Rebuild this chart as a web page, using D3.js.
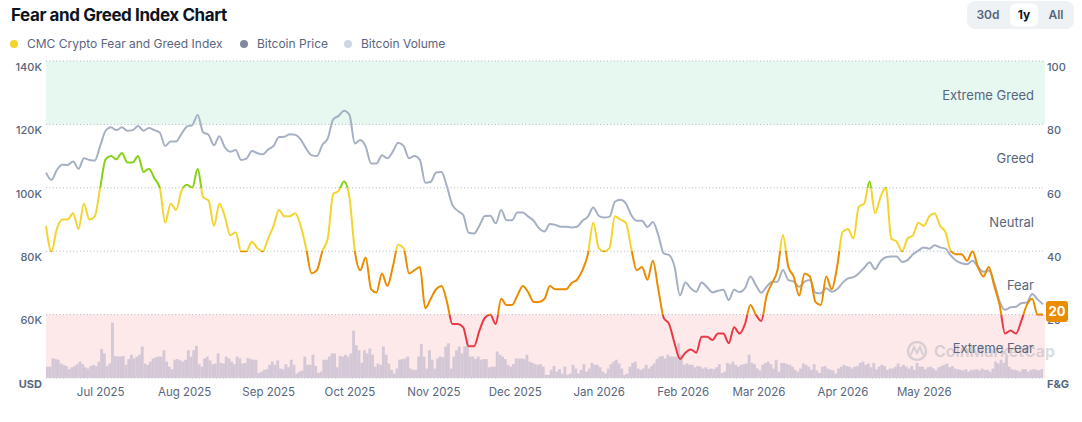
<!DOCTYPE html>
<html>
<head>
<meta charset="utf-8">
<script src="https://cdn.jsdelivr.net/npm/d3@7"></script>
<style>
  body { margin: 0; background: #fff; }
  #canvas { width: 1082px; height: 422px; }
  text { font-family: Inter, "Noto Sans", sans-serif; }
</style>
</head>
<body>
<div id="canvas"></div>
<script>
// data
let startDay = "2025-06-11"
let seriesStep = 2   // fear & greed and price are read every 2 days

let fngValues = [
  48,40,47,50,50,52,47,55,50,51,
  60,69,70,69,71,68,68,70,65,66,
  63,60,49,55,53,59,61,60,66,57,
  56,48,55,51,45,46,40,40,43,41,
  40,44,48,53,51,51,52,48,41,33,
  34,40,44,58,59,62,57,40,34,38,
  28,27,33,29,35,42,41,33,34,35,
  22,25,28,29,24,17,17,16,10,10,
  15,19,20,17,25,23,23,26,29,27,
  24,24,25,29,28,28,28,30,31,34,
  39,49,41,40,41,51,50,49,41,34,
  35,31,37,28,19,17,11,6,8,9,
  8,13,13,12,14,14,11,16,14,17,
  23,20,18,26,30,34,45,35,32,26,
  33,32,24,23,32,28,35,46,47,44,
  54,55,62,52,57,60,44,43,40,44,
  45,49,48,51,52,48,46,40,39,39,
  37,40,35,32,35,29,23,14,15,14,
  18,23,25,20,20
]

// bitcoin price, thousands of USD
let priceValues = [
  104.8,102.5,105.6,107.3,107.2,108.3,106,109.3,108.8,108.6,
  113.2,118,119.1,118.2,119.1,118,118.2,119.5,118,118.9,
  118.2,117.4,113.2,114.6,114.6,117,119.3,119.8,123,117.5,
  116.7,113.4,116.3,112.8,111.4,111.9,108.8,109.2,111.6,110.9,
  110.6,112.1,113.2,116,116.1,116.9,116.7,115.3,112.4,110.3,
  110,113.5,115.6,121.6,122.7,124.3,123,114,115.1,113,
  107.7,107.7,110.3,109.3,111.4,114.2,113.2,109.3,110,108.8,
  101.6,101.9,104.8,105,100.4,94.6,92.7,91.4,85.8,85.6,
  88.1,91.1,91.2,88.8,93,89.8,89.8,92.2,92.2,90.9,
  89.6,87.2,86.2,88.6,88.3,87.7,87.7,87.5,87.7,89.6,
  90.9,93.8,91.2,90.6,90.9,95.6,96.2,95.1,91.4,89.6,
  89.6,87.6,89.2,85.1,79.3,78.8,75.1,66,70.1,68.3,
  67.2,70.1,68.6,67,67.5,67.8,64.6,67.8,67.1,68.3,
  72,69.3,66.9,68.8,70.4,70.4,74.1,70.9,70.4,68.8,
  70.4,70.9,66.9,66.7,68.3,67.2,68,70,71.4,71.8,
  73,74.8,76.5,74.3,76.8,78.1,78.3,78.3,76.6,77.2,
  79,80.2,81.2,80.8,81.9,81.2,80.8,78.6,77,76.2,
  75.9,77,75.1,73.5,73.9,70.1,64.1,61.5,62.3,62.5,
  63.6,63.8,66.5,64.8,63.3
]

// daily bitcoin volume, billions of USD
let volumeValues = [
  18,18,31,30,29,23,21,19,14,17,
  19,22,26,22,17,15,19,21,19,26,
  46,39,19,23,88,35,34,34,35,21,
  30,37,31,34,37,50,23,21,26,31,
  33,34,34,44,26,18,14,29,30,28,
  26,29,44,34,44,51,22,18,31,34,
  28,22,23,39,24,23,34,31,26,22,
  34,31,23,24,32,30,29,29,8,10,
  13,14,21,26,21,28,15,14,22,17,
  29,21,7,10,12,34,21,21,37,19,
  8,10,29,29,34,39,39,17,35,34,
  37,34,39,75,52,44,24,44,39,47,
  37,18,23,21,50,37,23,13,7,15,
  29,30,31,34,15,13,13,34,54,34,
  15,44,29,15,31,34,33,50,55,15,
  34,44,50,39,50,63,34,34,30,34,
  29,30,30,17,18,18,42,37,34,30,
  21,18,22,31,31,31,30,37,26,24,
  22,21,22,18,5,5,13,19,10,14,
  7,18,5,7,21,15,7,13,22,10,
  15,24,21,21,17,10,7,15,22,26,
  29,23,15,5,7,18,24,26,15,13,
  15,21,15,19,23,30,34,35,31,37,
  34,34,34,55,37,21,23,21,21,17,
  19,18,15,17,14,15,14,17,22,8,
  10,24,22,26,21,18,21,22,23,37,
  24,22,15,12,21,24,26,22,15,29,
  10,24,24,22,21,18,13,10,15,23,
  21,18,13,22,12,8,18,19,15,13,
  12,7,15,18,21,19,18,15,18,19,
  24,26,21,23,17,24,14,18,21,19,
  13,15,15,18,23,18,21,18,15,19,
  13,24,18,18,14,17,18,15,12,17,
  19,21,23,17,19,15,14,13,12,14,
  10,13,13,14,12,15,13,13,10,15,
  26,23,29,24,34,18,14,13,12,10,
  14,14,10,13,14,13,12,14,13
]

let monthTicks = ["2025-07-01","2025-08-01","2025-09-01","2025-10-01","2025-11-01","2025-12-01",
  "2026-01-01","2026-02-01","2026-03-01","2026-04-01","2026-05-01"]
let priceTicks = [140, 120, 100, 80, 60, 40]
let fngTicks = [100, 80, 60, 40, 20, 0]
let zoneNames = ["Extreme Greed", "Greed", "Neutral", "Fear", "Extreme Fear"]
let zoneMids = [90, 70, 50, 30, 10]
let legendNames = ["CMC Crypto Fear and Greed Index", "Bitcoin Price", "Bitcoin Volume"]
let rangeButtons = ["30d", "1y", "All"]

let svg = {}
let scales = {}
let plot = {left: 46, right: 1043, top: 61, bottom: 378}
let colors = {
  greed: "#86d212", neutral: "#f3d42f", fear: "#ea8c00", extremeFear: "#ea3943",
  price: "#a6b0c3", volume: "#d4c8d7", text: "#58667e", dark: "#0d1421"
}

window.onload = function () { setup() }

function setup(){
  setupSVGCanvas()
  setupScales()
  drawHeader()
  drawZones()
  drawVolume()
  drawPrice()
  drawFng()
  drawAxes()
  drawBadge()
}

function setupSVGCanvas(){
  svg = d3.select("#canvas")
    .append("svg")
    .attr("width", 1082)
    .attr("height", 422)
}

function dayDate(i){
  return d3.timeDay.offset(d3.timeParse("%Y-%m-%d")(startDay), i)
}

function setupScales(){
  scales.x = d3.scaleTime()
    .domain([dayDate(0), dayDate(368)])
    .range([plot.left, plot.right])
  scales.price = d3.scaleLinear().domain([40, 140]).range([plot.bottom, plot.top])
  scales.fng = d3.scaleLinear().domain([0, 100]).range([plot.bottom, plot.top])
  scales.vol = d3.scaleLinear().domain([0, 100]).range([plot.bottom, plot.bottom - 63])
}

function drawHeader(){
  svg.append("text")
    .attr("x", 11).attr("y", 21)
    .attr("font-size", 17).attr("font-weight", 700)
    .attr("letter-spacing", "-0.4px")
    .attr("fill", colors.dark)
    .text("Fear and Greed Index Chart")

  let dotColors = [colors.neutral, "#808a9d", "#cfd6e4"]
  let legendX = [14, 244, 348]
  let legend = svg.append("g")
  legendNames.forEach((name, i) => {
    legend.append("circle").attr("cx", legendX[i]).attr("cy", 44).attr("r", 4).attr("fill", dotColors[i])
    legend.append("text")
      .attr("x", legendX[i] + 13).attr("y", 48)
      .attr("font-size", 12).attr("fill", colors.text)
      .text(name)
  })

  let buttons = svg.append("g")
  buttons.append("rect")
    .attr("x", 967).attr("y", 1).attr("width", 107).attr("height", 28)
    .attr("rx", 8).attr("fill", "#eff2f5")
  buttons.append("rect")
    .attr("x", 1010).attr("y", 3.5).attr("width", 28).attr("height", 23)
    .attr("rx", 6).attr("fill", "#fff")
  let buttonX = [988, 1024, 1056]
  rangeButtons.forEach((label, i) => {
    buttons.append("text")
      .attr("x", buttonX[i]).attr("y", 19)
      .attr("text-anchor", "middle")
      .attr("font-size", 12)
      .attr("font-weight", label == "1y" ? 700 : 600)
      .attr("fill", label == "1y" ? colors.dark : colors.text)
      .text(label)
  })
}

function drawZones(){
  svg.append("rect")
    .attr("x", plot.left).attr("width", plot.right + 2 - plot.left)
    .attr("y", scales.fng(100)).attr("height", scales.fng(80) - scales.fng(100))
    .attr("fill", "#e7f8f1")
  svg.append("rect")
    .attr("x", plot.left).attr("width", plot.right + 2 - plot.left)
    .attr("y", scales.fng(20)).attr("height", scales.fng(0) - scales.fng(20))
    .attr("fill", "#fde9ea")

  svg.selectAll(".grid")
    .data(fngTicks)
    .join("line")
    .attr("class", "grid")
    .attr("x1", plot.left).attr("x2", plot.right)
    .attr("y1", d => scales.fng(d)).attr("y2", d => scales.fng(d))
    .attr("stroke", "#aeb5c0")
    .attr("stroke-dasharray", "1 2.4")

  // watermark
  let mark = svg.append("g").attr("opacity", 0.38)
  mark.append("circle").attr("cx", 917).attr("cy", 351).attr("r", 9)
    .attr("fill", "none").attr("stroke", "#9aa2ae").attr("stroke-width", 2.4)
  mark.append("path")
    .attr("d", "M911,355 L914,347 L917,353 L920,347 L923,355")
    .attr("fill", "none").attr("stroke", "#9aa2ae").attr("stroke-width", 2)
  mark.append("text")
    .attr("x", 934).attr("y", 357)
    .attr("font-size", 16).attr("font-weight", 600).attr("fill", "#9aa2ae")
    .text("CoinMarketCap")

  svg.selectAll(".zone")
    .data(zoneNames)
    .join("text")
    .attr("class", "zone")
    .attr("x", 1034)
    .attr("y", (d, i) => scales.fng(zoneMids[i]) + 7)
    .attr("text-anchor", "end")
    .attr("font-size", 13)
    .attr("fill", colors.text)
    .text(d => d)
}

function drawVolume(){
  let w = scales.x(dayDate(1)) - scales.x(dayDate(0))
  svg.append("clipPath").attr("id", "plotclip")
    .append("rect").attr("x", plot.left).attr("y", 0).attr("width", plot.right - plot.left).attr("height", 422)

  svg.append("g")
    .attr("clip-path", "url(#plotclip)")
    .selectAll("rect")
    .data(volumeValues)
    .join("rect")
    .attr("x", (d, i) => scales.x(dayDate(i)))
    .attr("width", w + 0.15)
    .attr("y", d => scales.vol(d))
    .attr("height", d => scales.vol(0) - scales.vol(d))
    .attr("fill", colors.volume)
}

function drawPrice(){
  let line = d3.line()
    .x((d, i) => scales.x(dayDate(i * seriesStep)))
    .y(d => scales.price(d))
    .curve(d3.curveMonotoneX)

  svg.append("path")
    .datum(priceValues)
    .attr("d", line)
    .attr("fill", "none")
    .attr("stroke", colors.price)
    .attr("stroke-width", 2)
}

function drawFng(){
  let grad = svg.append("defs").append("linearGradient")
    .attr("id", "fngcolor")
    .attr("gradientUnits", "userSpaceOnUse")
    .attr("x1", 0).attr("x2", 0)
    .attr("y1", scales.fng(100)).attr("y2", scales.fng(0))
  let stops = [
    [0, colors.greed], [0.4, colors.greed],
    [0.4, colors.neutral], [0.6, colors.neutral],
    [0.6, colors.fear], [0.8, colors.fear],
    [0.8, colors.extremeFear], [1, colors.extremeFear]
  ]
  grad.selectAll("stop")
    .data(stops)
    .join("stop")
    .attr("offset", d => d[0])
    .attr("stop-color", d => d[1])

  let line = d3.line()
    .x((d, i) => scales.x(dayDate(i * seriesStep)))
    .y(d => scales.fng(d))
    .curve(d3.curveMonotoneX)

  svg.append("path")
    .datum(fngValues)
    .attr("d", line)
    .attr("fill", "none")
    .attr("stroke", "url(#fngcolor)")
    .attr("stroke-width", 2)
    .attr("stroke-linejoin", "round")
}

function styleAxis(g){
  g.select(".domain").remove()
  g.selectAll("text")
    .attr("fill", colors.text)
    .attr("font-family", "Inter, sans-serif")
}

function drawAxes(){
  let left = svg.append("g")
    .attr("transform", `translate(${plot.left},0)`)
    .call(d3.axisLeft(scales.price)
      .tickValues(priceTicks)
      .tickSize(0).tickPadding(4)
      .tickFormat(d => d == 40 ? "USD" : d + "K"))
  styleAxis(left)
  left.selectAll("text")
    .attr("font-size", 11)
    .attr("font-weight", d => d == 40 ? 700 : 500)
    .attr("dy", "0.85em")

  let right = svg.append("g")
    .attr("transform", `translate(${plot.right},0)`)
    .call(d3.axisRight(scales.fng)
      .tickValues(fngTicks)
      .tickSize(0).tickPadding(4)
      .tickFormat(d => d == 0 ? "F&G" : d))
  styleAxis(right)
  right.selectAll("text")
    .attr("font-size", 11)
    .attr("font-weight", d => d == 0 ? 700 : 500)
    .attr("dy", "0.85em")

  let bottom = svg.append("g")
    .attr("transform", `translate(0,${plot.bottom})`)
    .call(d3.axisBottom(scales.x)
      .tickValues(monthTicks.map(d => d3.timeParse("%Y-%m-%d")(d)))
      .tickSize(0).tickPadding(10)
      .tickFormat(d3.timeFormat("%b %Y")))
  styleAxis(bottom)
  bottom.selectAll("text").attr("font-size", 11.5)
}

function drawBadge(){
  let last = fngValues[fngValues.length - 1]
  let cy = scales.fng(last) - 3
  svg.append("rect")
    .attr("x", 1046).attr("y", cy - 10.5)
    .attr("width", 22).attr("height", 21).attr("rx", 3)
    .attr("fill", colors.fear)
  svg.append("text")
    .attr("x", 1057).attr("y", cy + 4.5)
    .attr("text-anchor", "middle")
    .attr("font-size", 13).attr("font-weight", 700)
    .attr("fill", "#fff")
    .text(last)
}
</script>
</body>
</html>
